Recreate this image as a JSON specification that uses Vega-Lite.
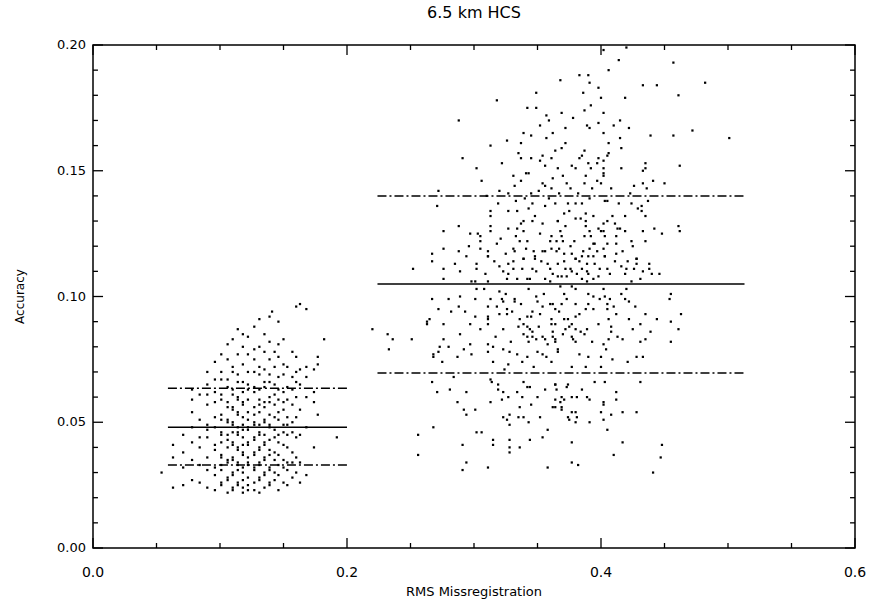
{
"$schema":"https://vega.github.io/schema/vega-lite/v6.json",
"autosize":"none","width":762,"height":503,
"padding":{"left":93,"top":45,"right":39,"bottom":58},
"background":"white",
"title":{"text":"6.5 km HCS","font":"DejaVu Sans","fontSize":16,"fontWeight":"normal","color":"black","offset":18},
"config":{"view":{"stroke":"black","strokeWidth":1.5},"text":{"font":"DejaVu Sans","color":"black"}},
"datasets":{
"xt":[{"v":0,"k":"major"},{"v":0.05,"k":"minor"},{"v":0.1,"k":"minor"},{"v":0.15,"k":"minor"},{"v":0.2,"k":"major"},{"v":0.25,"k":"minor"},{"v":0.3,"k":"minor"},{"v":0.35,"k":"minor"},{"v":0.4,"k":"major"},{"v":0.45,"k":"minor"},{"v":0.5,"k":"minor"},{"v":0.55,"k":"minor"},{"v":0.6,"k":"major"}],
"yt":[{"v":0,"k":"major"},{"v":0.01,"k":"minor"},{"v":0.02,"k":"minor"},{"v":0.03,"k":"minor"},{"v":0.04,"k":"minor"},{"v":0.05,"k":"major"},{"v":0.06,"k":"minor"},{"v":0.07,"k":"minor"},{"v":0.08,"k":"minor"},{"v":0.09,"k":"minor"},{"v":0.1,"k":"major"},{"v":0.11,"k":"minor"},{"v":0.12,"k":"minor"},{"v":0.13,"k":"minor"},{"v":0.14,"k":"minor"},{"v":0.15,"k":"major"},{"v":0.16,"k":"minor"},{"v":0.17,"k":"minor"},{"v":0.18,"k":"minor"},{"v":0.19,"k":"minor"},{"v":0.2,"k":"major"}],
"titles":[{"t":"RMS Missregistration","ax":"x","v":0.3},{"t":"Accuracy","ax":"y","v":0.1}],
"lines":[
{"x1":0.059,"x2":0.2,"y":0.048,"kind":"mean"},
{"x1":0.059,"x2":0.2,"y":0.0635,"kind":"sigma"},
{"x1":0.059,"x2":0.2,"y":0.033,"kind":"sigma"},
{"x1":0.224,"x2":0.513,"y":0.105,"kind":"mean"},
{"x1":0.224,"x2":0.513,"y":0.140,"kind":"sigma"},
{"x1":0.224,"x2":0.513,"y":0.0696,"kind":"sigma"}],
"pts":[
{"x":0.054,"y":0.030},
{"x":0.063,"y":0.024},{"x":0.063,"y":0.036},{"x":0.063,"y":0.041},
{"x":0.071,"y":0.025},{"x":0.071,"y":0.032},{"x":0.071,"y":0.038},{"x":0.071,"y":0.045},
{"x":0.078,"y":0.027},{"x":0.078,"y":0.035},{"x":0.078,"y":0.042},{"x":0.078,"y":0.048},{"x":0.078,"y":0.054},{"x":0.078,"y":0.059},{"x":0.078,"y":0.063},
{"x":0.084,"y":0.026},{"x":0.084,"y":0.033},{"x":0.084,"y":0.040},{"x":0.084,"y":0.044},{"x":0.084,"y":0.051},{"x":0.084,"y":0.061},
{"x":0.090,"y":0.024},{"x":0.090,"y":0.031},{"x":0.090,"y":0.036},{"x":0.090,"y":0.044},{"x":0.090,"y":0.047},{"x":0.090,"y":0.049},{"x":0.090,"y":0.057},{"x":0.090,"y":0.061},{"x":0.090,"y":0.065},{"x":0.090,"y":0.070},
{"x":0.096,"y":0.023},{"x":0.096,"y":0.029},{"x":0.096,"y":0.032},{"x":0.096,"y":0.039},{"x":0.096,"y":0.041},{"x":0.096,"y":0.048},{"x":0.096,"y":0.052},{"x":0.096,"y":0.058},{"x":0.096,"y":0.062},{"x":0.096,"y":0.067},{"x":0.096,"y":0.074},
{"x":0.101,"y":0.025},{"x":0.101,"y":0.026},{"x":0.101,"y":0.031},{"x":0.101,"y":0.033},{"x":0.101,"y":0.036},{"x":0.101,"y":0.037},{"x":0.101,"y":0.042},{"x":0.101,"y":0.045},{"x":0.101,"y":0.046},{"x":0.101,"y":0.051},{"x":0.101,"y":0.053},{"x":0.101,"y":0.059},{"x":0.101,"y":0.061},{"x":0.101,"y":0.067},{"x":0.101,"y":0.070},{"x":0.101,"y":0.077},
{"x":0.106,"y":0.022},{"x":0.106,"y":0.027},{"x":0.106,"y":0.028},{"x":0.106,"y":0.034},{"x":0.106,"y":0.035},{"x":0.106,"y":0.040},{"x":0.106,"y":0.043},{"x":0.106,"y":0.045},{"x":0.106,"y":0.050},{"x":0.106,"y":0.051},{"x":0.106,"y":0.056},{"x":0.106,"y":0.058},{"x":0.106,"y":0.064},{"x":0.106,"y":0.067},{"x":0.106,"y":0.075},{"x":0.106,"y":0.081},
{"x":0.110,"y":0.023},{"x":0.110,"y":0.024},{"x":0.110,"y":0.029},{"x":0.110,"y":0.030},{"x":0.110,"y":0.035},{"x":0.110,"y":0.036},{"x":0.110,"y":0.041},{"x":0.110,"y":0.042},{"x":0.110,"y":0.046},{"x":0.110,"y":0.049},{"x":0.110,"y":0.050},{"x":0.110,"y":0.055},{"x":0.110,"y":0.056},{"x":0.110,"y":0.061},{"x":0.110,"y":0.063},{"x":0.110,"y":0.070},{"x":0.110,"y":0.072},{"x":0.110,"y":0.083},
{"x":0.114,"y":0.025},{"x":0.114,"y":0.026},{"x":0.114,"y":0.031},{"x":0.114,"y":0.033},{"x":0.114,"y":0.034},{"x":0.114,"y":0.039},{"x":0.114,"y":0.040},{"x":0.114,"y":0.045},{"x":0.114,"y":0.046},{"x":0.114,"y":0.048},{"x":0.114,"y":0.053},{"x":0.114,"y":0.054},{"x":0.114,"y":0.059},{"x":0.114,"y":0.060},{"x":0.114,"y":0.066},{"x":0.114,"y":0.069},{"x":0.114,"y":0.077},{"x":0.114,"y":0.087},
{"x":0.118,"y":0.022},{"x":0.118,"y":0.024},{"x":0.118,"y":0.027},{"x":0.118,"y":0.030},{"x":0.118,"y":0.032},{"x":0.118,"y":0.037},{"x":0.118,"y":0.038},{"x":0.118,"y":0.041},{"x":0.118,"y":0.044},{"x":0.118,"y":0.047},{"x":0.118,"y":0.049},{"x":0.118,"y":0.052},{"x":0.118,"y":0.057},{"x":0.118,"y":0.058},{"x":0.118,"y":0.062},{"x":0.118,"y":0.066},{"x":0.118,"y":0.073},{"x":0.118,"y":0.080},{"x":0.118,"y":0.085},
{"x":0.122,"y":0.023},{"x":0.122,"y":0.025},{"x":0.122,"y":0.028},{"x":0.122,"y":0.033},{"x":0.122,"y":0.034},{"x":0.122,"y":0.036},{"x":0.122,"y":0.041},{"x":0.122,"y":0.042},{"x":0.122,"y":0.047},{"x":0.122,"y":0.048},{"x":0.122,"y":0.051},{"x":0.122,"y":0.054},{"x":0.122,"y":0.059},{"x":0.122,"y":0.063},{"x":0.122,"y":0.065},{"x":0.122,"y":0.070},{"x":0.122,"y":0.077},{"x":0.122,"y":0.084},
{"x":0.127,"y":0.023},{"x":0.127,"y":0.026},{"x":0.127,"y":0.031},{"x":0.127,"y":0.032},{"x":0.127,"y":0.037},{"x":0.127,"y":0.038},{"x":0.127,"y":0.043},{"x":0.127,"y":0.044},{"x":0.127,"y":0.049},{"x":0.127,"y":0.050},{"x":0.127,"y":0.053},{"x":0.127,"y":0.056},{"x":0.127,"y":0.062},{"x":0.127,"y":0.064},{"x":0.127,"y":0.070},{"x":0.127,"y":0.075},{"x":0.127,"y":0.079},{"x":0.127,"y":0.088},
{"x":0.131,"y":0.022},{"x":0.131,"y":0.027},{"x":0.131,"y":0.028},{"x":0.131,"y":0.033},{"x":0.131,"y":0.034},{"x":0.131,"y":0.039},{"x":0.131,"y":0.040},{"x":0.131,"y":0.045},{"x":0.131,"y":0.046},{"x":0.131,"y":0.049},{"x":0.131,"y":0.054},{"x":0.131,"y":0.057},{"x":0.131,"y":0.059},{"x":0.131,"y":0.063},{"x":0.131,"y":0.069},{"x":0.131,"y":0.072},{"x":0.131,"y":0.080},{"x":0.131,"y":0.091},
{"x":0.135,"y":0.024},{"x":0.135,"y":0.029},{"x":0.135,"y":0.030},{"x":0.135,"y":0.035},{"x":0.135,"y":0.036},{"x":0.135,"y":0.041},{"x":0.135,"y":0.042},{"x":0.135,"y":0.045},{"x":0.135,"y":0.050},{"x":0.135,"y":0.051},{"x":0.135,"y":0.056},{"x":0.135,"y":0.058},{"x":0.135,"y":0.064},{"x":0.135,"y":0.066},{"x":0.135,"y":0.071},{"x":0.135,"y":0.078},{"x":0.135,"y":0.085},
{"x":0.139,"y":0.025},{"x":0.139,"y":0.026},{"x":0.139,"y":0.031},{"x":0.139,"y":0.032},{"x":0.139,"y":0.037},{"x":0.139,"y":0.039},{"x":0.139,"y":0.043},{"x":0.139,"y":0.048},{"x":0.139,"y":0.049},{"x":0.139,"y":0.053},{"x":0.139,"y":0.058},{"x":0.139,"y":0.060},{"x":0.139,"y":0.066},{"x":0.139,"y":0.069},{"x":0.139,"y":0.075},{"x":0.139,"y":0.082},{"x":0.139,"y":0.092},{"x":0.141,"y":0.094},
{"x":0.143,"y":0.027},{"x":0.143,"y":0.030},{"x":0.143,"y":0.035},{"x":0.143,"y":0.038},{"x":0.143,"y":0.044},{"x":0.143,"y":0.047},{"x":0.143,"y":0.052},{"x":0.143,"y":0.057},{"x":0.143,"y":0.061},{"x":0.143,"y":0.065},{"x":0.143,"y":0.072},{"x":0.143,"y":0.078},
{"x":0.146,"y":0.023},{"x":0.146,"y":0.029},{"x":0.146,"y":0.033},{"x":0.146,"y":0.037},{"x":0.146,"y":0.042},{"x":0.146,"y":0.045},{"x":0.146,"y":0.051},{"x":0.146,"y":0.054},{"x":0.146,"y":0.059},{"x":0.146,"y":0.063},{"x":0.146,"y":0.068},{"x":0.146,"y":0.076},{"x":0.146,"y":0.081},{"x":0.146,"y":0.090},
{"x":0.150,"y":0.026},{"x":0.150,"y":0.032},{"x":0.150,"y":0.035},{"x":0.150,"y":0.041},{"x":0.150,"y":0.046},{"x":0.150,"y":0.049},{"x":0.150,"y":0.055},{"x":0.150,"y":0.058},{"x":0.150,"y":0.062},{"x":0.150,"y":0.069},{"x":0.150,"y":0.073},{"x":0.150,"y":0.083},
{"x":0.153,"y":0.025},{"x":0.153,"y":0.031},{"x":0.153,"y":0.034},{"x":0.153,"y":0.040},{"x":0.153,"y":0.045},{"x":0.153,"y":0.049},{"x":0.153,"y":0.052},{"x":0.153,"y":0.059},{"x":0.153,"y":0.064},{"x":0.153,"y":0.072},
{"x":0.157,"y":0.028},{"x":0.157,"y":0.034},{"x":0.157,"y":0.038},{"x":0.157,"y":0.046},{"x":0.157,"y":0.050},{"x":0.157,"y":0.057},{"x":0.157,"y":0.063},{"x":0.157,"y":0.068},{"x":0.157,"y":0.078},
{"x":0.160,"y":0.030},{"x":0.160,"y":0.036},{"x":0.160,"y":0.044},{"x":0.160,"y":0.052},{"x":0.160,"y":0.060},{"x":0.160,"y":0.066},{"x":0.160,"y":0.070},{"x":0.160,"y":0.076},{"x":0.160,"y":0.096},
{"x":0.163,"y":0.026},{"x":0.163,"y":0.034},{"x":0.163,"y":0.045},{"x":0.163,"y":0.055},{"x":0.163,"y":0.065},{"x":0.163,"y":0.071},{"x":0.163,"y":0.097},
{"x":0.168,"y":0.029},{"x":0.168,"y":0.048},{"x":0.168,"y":0.060},{"x":0.168,"y":0.068},{"x":0.168,"y":0.072},{"x":0.168,"y":0.095},
{"x":0.174,"y":0.040},{"x":0.174,"y":0.058},{"x":0.174,"y":0.062},{"x":0.174,"y":0.071},
{"x":0.177,"y":0.053},{"x":0.177,"y":0.073},{"x":0.177,"y":0.076},
{"x":0.182,"y":0.083},{"x":0.192,"y":0.044},
{"x":0.288,"y":0.170},{"x":0.318,"y":0.178},{"x":0.349,"y":0.181},{"x":0.342,"y":0.175},{"x":0.349,"y":0.175},{"x":0.357,"y":0.172},{"x":0.359,"y":0.170},{"x":0.362,"y":0.165},{"x":0.357,"y":0.163},{"x":0.339,"y":0.165},{"x":0.345,"y":0.164},{"x":0.313,"y":0.160},{"x":0.337,"y":0.161},{"x":0.335,"y":0.157},{"x":0.291,"y":0.155},{"x":0.337,"y":0.155},{"x":0.345,"y":0.155},{"x":0.354,"y":0.156},{"x":0.352,"y":0.154},{"x":0.361,"y":0.155},{"x":0.302,"y":0.151},{"x":0.322,"y":0.153},{"x":0.356,"y":0.152},{"x":0.341,"y":0.149},{"x":0.331,"y":0.148},{"x":0.337,"y":0.146},{"x":0.306,"y":0.146},{"x":0.332,"y":0.144},{"x":0.354,"y":0.145},{"x":0.356,"y":0.144},{"x":0.362,"y":0.147},{"x":0.361,"y":0.143},{"x":0.272,"y":0.142},{"x":0.320,"y":0.142},{"x":0.310,"y":0.140},{"x":0.345,"y":0.141},{"x":0.340,"y":0.139},{"x":0.346,"y":0.137},{"x":0.356,"y":0.136},{"x":0.271,"y":0.136},{"x":0.319,"y":0.137},{"x":0.313,"y":0.134},{"x":0.327,"y":0.134},{"x":0.334,"y":0.134},{"x":0.343,"y":0.135},{"x":0.348,"y":0.132},{"x":0.346,"y":0.130},{"x":0.337,"y":0.129},{"x":0.339,"y":0.130},{"x":0.354,"y":0.129},{"x":0.366,"y":0.130},{"x":0.313,"y":0.132},{"x":0.313,"y":0.128},{"x":0.313,"y":0.126},{"x":0.276,"y":0.126},{"x":0.288,"y":0.128},{"x":0.327,"y":0.127},{"x":0.334,"y":0.127},{"x":0.339,"y":0.126},{"x":0.297,"y":0.125},{"x":0.303,"y":0.125},{"x":0.305,"y":0.124},{"x":0.305,"y":0.122},{"x":0.321,"y":0.123},{"x":0.336,"y":0.122},{"x":0.342,"y":0.122},{"x":0.360,"y":0.122},{"x":0.361,"y":0.124},{"x":0.288,"y":0.118},{"x":0.276,"y":0.119},{"x":0.267,"y":0.117},{"x":0.305,"y":0.119},{"x":0.311,"y":0.118},{"x":0.311,"y":0.116},{"x":0.331,"y":0.119},{"x":0.332,"y":0.118},{"x":0.347,"y":0.118},{"x":0.354,"y":0.118},{"x":0.361,"y":0.119},{"x":0.339,"y":0.115},{"x":0.348,"y":0.115},
{"x":0.402,"y":0.198},{"x":0.420,"y":0.199},{"x":0.414,"y":0.194},{"x":0.457,"y":0.193},{"x":0.406,"y":0.190},{"x":0.368,"y":0.186},{"x":0.383,"y":0.188},{"x":0.390,"y":0.188},{"x":0.391,"y":0.185},{"x":0.398,"y":0.183},{"x":0.433,"y":0.184},{"x":0.444,"y":0.184},{"x":0.482,"y":0.185},{"x":0.461,"y":0.180},{"x":0.400,"y":0.179},{"x":0.419,"y":0.179},{"x":0.369,"y":0.173},{"x":0.387,"y":0.174},{"x":0.402,"y":0.173},{"x":0.398,"y":0.169},{"x":0.415,"y":0.170},{"x":0.372,"y":0.167},{"x":0.389,"y":0.168},{"x":0.391,"y":0.167},{"x":0.402,"y":0.165},{"x":0.410,"y":0.168},{"x":0.422,"y":0.167},{"x":0.415,"y":0.163},{"x":0.439,"y":0.164},{"x":0.457,"y":0.164},{"x":0.472,"y":0.166},{"x":0.501,"y":0.163},{"x":0.406,"y":0.161},{"x":0.416,"y":0.159},{"x":0.369,"y":0.159},{"x":0.364,"y":0.158},{"x":0.387,"y":0.158},{"x":0.385,"y":0.156},{"x":0.406,"y":0.157},{"x":0.405,"y":0.156},{"x":0.398,"y":0.155},{"x":0.402,"y":0.154},{"x":0.390,"y":0.153},{"x":0.397,"y":0.153},{"x":0.377,"y":0.152},{"x":0.380,"y":0.151},{"x":0.392,"y":0.151},{"x":0.402,"y":0.151},{"x":0.416,"y":0.151},{"x":0.435,"y":0.153},{"x":0.435,"y":0.151},{"x":0.433,"y":0.150},{"x":0.462,"y":0.152},{"x":0.402,"y":0.149},{"x":0.402,"y":0.148},{"x":0.370,"y":0.148},{"x":0.388,"y":0.148},{"x":0.441,"y":0.146},{"x":0.387,"y":0.145},{"x":0.400,"y":0.145},{"x":0.433,"y":0.145},{"x":0.450,"y":0.145},{"x":0.436,"y":0.143},{"x":0.376,"y":0.143},{"x":0.393,"y":0.143},{"x":0.403,"y":0.138},{"x":0.405,"y":0.138},{"x":0.423,"y":0.141},{"x":0.364,"y":0.137},{"x":0.374,"y":0.137},{"x":0.380,"y":0.137},{"x":0.385,"y":0.137},{"x":0.437,"y":0.138},{"x":0.424,"y":0.137},{"x":0.429,"y":0.135},{"x":0.432,"y":0.136},{"x":0.432,"y":0.134},{"x":0.435,"y":0.132},{"x":0.371,"y":0.133},{"x":0.375,"y":0.134},{"x":0.388,"y":0.133},{"x":0.394,"y":0.132},{"x":0.409,"y":0.132},{"x":0.419,"y":0.132},{"x":0.380,"y":0.131},{"x":0.366,"y":0.130},{"x":0.405,"y":0.130},{"x":0.402,"y":0.129},{"x":0.388,"y":0.130},{"x":0.388,"y":0.128},{"x":0.415,"y":0.127},{"x":0.413,"y":0.127},{"x":0.419,"y":0.126},{"x":0.398,"y":0.127},{"x":0.402,"y":0.126},{"x":0.400,"y":0.126},{"x":0.433,"y":0.126},{"x":0.442,"y":0.127},{"x":0.448,"y":0.125},{"x":0.461,"y":0.128},{"x":0.462,"y":0.126},{"x":0.368,"y":0.126},{"x":0.391,"y":0.126},{"x":0.387,"y":0.124},{"x":0.403,"y":0.124},{"x":0.412,"y":0.124},{"x":0.369,"y":0.124},{"x":0.370,"y":0.122},{"x":0.365,"y":0.122},{"x":0.376,"y":0.120},{"x":0.394,"y":0.121},{"x":0.395,"y":0.121},{"x":0.412,"y":0.121},{"x":0.424,"y":0.122},{"x":0.425,"y":0.120},{"x":0.435,"y":0.122},{"x":0.391,"y":0.119},{"x":0.402,"y":0.119},{"x":0.365,"y":0.118},{"x":0.371,"y":0.117},{"x":0.377,"y":0.117},{"x":0.385,"y":0.116},{"x":0.390,"y":0.116},{"x":0.403,"y":0.116},{"x":0.412,"y":0.117},{"x":0.428,"y":0.115},{"x":0.380,"y":0.115},
{"x":0.267,"y":0.114},{"x":0.252,"y":0.111},{"x":0.276,"y":0.111},{"x":0.294,"y":0.116},{"x":0.311,"y":0.116},{"x":0.289,"y":0.110},{"x":0.302,"y":0.111},{"x":0.276,"y":0.107},{"x":0.298,"y":0.106},{"x":0.301,"y":0.106},{"x":0.311,"y":0.106},{"x":0.320,"y":0.112},{"x":0.323,"y":0.110},{"x":0.327,"y":0.109},{"x":0.327,"y":0.113},{"x":0.331,"y":0.114},{"x":0.331,"y":0.111},{"x":0.326,"y":0.107},{"x":0.334,"y":0.107},{"x":0.338,"y":0.111},{"x":0.339,"y":0.115},{"x":0.346,"y":0.111},{"x":0.349,"y":0.110},{"x":0.342,"y":0.107},{"x":0.344,"y":0.107},{"x":0.353,"y":0.114},{"x":0.360,"y":0.111},{"x":0.362,"y":0.109},{"x":0.356,"y":0.107},{"x":0.360,"y":0.106},{"x":0.348,"y":0.116},
{"x":0.267,"y":0.099},{"x":0.280,"y":0.099},{"x":0.289,"y":0.100},{"x":0.301,"y":0.099},{"x":0.313,"y":0.099},{"x":0.302,"y":0.103},{"x":0.308,"y":0.103},{"x":0.320,"y":0.102},{"x":0.322,"y":0.099},{"x":0.323,"y":0.098},{"x":0.332,"y":0.099},{"x":0.332,"y":0.098},{"x":0.272,"y":0.095},{"x":0.288,"y":0.096},{"x":0.311,"y":0.096},{"x":0.326,"y":0.095},{"x":0.349,"y":0.100},{"x":0.350,"y":0.098},{"x":0.354,"y":0.096},{"x":0.360,"y":0.097},{"x":0.362,"y":0.097},{"x":0.364,"y":0.095},{"x":0.346,"y":0.094},{"x":0.352,"y":0.093},{"x":0.293,"y":0.094},{"x":0.301,"y":0.092},{"x":0.311,"y":0.092},{"x":0.311,"y":0.091},{"x":0.320,"y":0.093},{"x":0.326,"y":0.093},{"x":0.330,"y":0.094},{"x":0.336,"y":0.091},{"x":0.342,"y":0.092},{"x":0.345,"y":0.092},{"x":0.361,"y":0.091},{"x":0.265,"y":0.091},{"x":0.263,"y":0.090},{"x":0.263,"y":0.089},{"x":0.276,"y":0.089},{"x":0.297,"y":0.089},{"x":0.311,"y":0.089},{"x":0.323,"y":0.087},{"x":0.339,"y":0.089},{"x":0.342,"y":0.088},{"x":0.344,"y":0.087},{"x":0.346,"y":0.086},{"x":0.220,"y":0.087},{"x":0.232,"y":0.085},{"x":0.236,"y":0.083},{"x":0.251,"y":0.083},{"x":0.233,"y":0.079},{"x":0.276,"y":0.083},{"x":0.289,"y":0.085},{"x":0.273,"y":0.080},{"x":0.272,"y":0.078},{"x":0.280,"y":0.080},{"x":0.297,"y":0.081},{"x":0.292,"y":0.079},{"x":0.311,"y":0.081},{"x":0.315,"y":0.080},{"x":0.311,"y":0.078},{"x":0.323,"y":0.079},{"x":0.328,"y":0.078},{"x":0.334,"y":0.077},{"x":0.342,"y":0.076},{"x":0.339,"y":0.085},{"x":0.342,"y":0.084},{"x":0.343,"y":0.082},{"x":0.346,"y":0.084},{"x":0.349,"y":0.083},{"x":0.354,"y":0.084},{"x":0.356,"y":0.083},{"x":0.362,"y":0.084},{"x":0.362,"y":0.086},{"x":0.361,"y":0.089},{"x":0.350,"y":0.078},{"x":0.354,"y":0.077},{"x":0.357,"y":0.076},{"x":0.361,"y":0.074},{"x":0.268,"y":0.077},{"x":0.268,"y":0.076},{"x":0.275,"y":0.074},{"x":0.287,"y":0.076},{"x":0.315,"y":0.074},{"x":0.327,"y":0.073},{"x":0.338,"y":0.074},
{"x":0.284,"y":0.068},{"x":0.313,"y":0.067},{"x":0.314,"y":0.066},{"x":0.339,"y":0.066},{"x":0.342,"y":0.064},{"x":0.344,"y":0.064},{"x":0.319,"y":0.065},{"x":0.319,"y":0.063},{"x":0.323,"y":0.062},{"x":0.334,"y":0.062},{"x":0.338,"y":0.060},{"x":0.327,"y":0.060},{"x":0.350,"y":0.060},{"x":0.364,"y":0.065},{"x":0.364,"y":0.059},{"x":0.362,"y":0.056},{"x":0.267,"y":0.066},{"x":0.271,"y":0.062},{"x":0.281,"y":0.063},{"x":0.294,"y":0.062},{"x":0.322,"y":0.059},{"x":0.287,"y":0.058},{"x":0.292,"y":0.055},{"x":0.294,"y":0.053},{"x":0.301,"y":0.055},{"x":0.323,"y":0.052},{"x":0.326,"y":0.051},{"x":0.328,"y":0.053},{"x":0.335,"y":0.052},{"x":0.339,"y":0.052},{"x":0.343,"y":0.050},{"x":0.328,"y":0.049},{"x":0.268,"y":0.048},{"x":0.302,"y":0.046},{"x":0.306,"y":0.046},{"x":0.256,"y":0.045},{"x":0.315,"y":0.043},{"x":0.315,"y":0.041},{"x":0.328,"y":0.043},{"x":0.336,"y":0.040},{"x":0.328,"y":0.040},{"x":0.328,"y":0.038},{"x":0.344,"y":0.043},{"x":0.354,"y":0.044},{"x":0.358,"y":0.047},{"x":0.291,"y":0.041},{"x":0.256,"y":0.037},{"x":0.294,"y":0.034},{"x":0.291,"y":0.031},{"x":0.311,"y":0.032},{"x":0.358,"y":0.032},
{"x":0.366,"y":0.113},{"x":0.371,"y":0.114},{"x":0.380,"y":0.115},{"x":0.383,"y":0.114},{"x":0.389,"y":0.113},{"x":0.394,"y":0.116},{"x":0.403,"y":0.116},{"x":0.376,"y":0.111},{"x":0.377,"y":0.110},{"x":0.385,"y":0.111},{"x":0.389,"y":0.110},{"x":0.390,"y":0.109},{"x":0.395,"y":0.113},{"x":0.399,"y":0.111},{"x":0.405,"y":0.111},{"x":0.366,"y":0.108},{"x":0.369,"y":0.108},{"x":0.373,"y":0.108},{"x":0.381,"y":0.109},{"x":0.385,"y":0.107},{"x":0.389,"y":0.106},{"x":0.394,"y":0.107},{"x":0.407,"y":0.109},{"x":0.416,"y":0.112},{"x":0.420,"y":0.111},{"x":0.421,"y":0.114},{"x":0.428,"y":0.115},{"x":0.428,"y":0.113},{"x":0.419,"y":0.109},{"x":0.424,"y":0.106},{"x":0.431,"y":0.107},{"x":0.433,"y":0.110},{"x":0.438,"y":0.113},{"x":0.438,"y":0.111},{"x":0.440,"y":0.109},{"x":0.446,"y":0.109},{"x":0.368,"y":0.104},{"x":0.377,"y":0.104},
{"x":0.371,"y":0.101},{"x":0.380,"y":0.103},{"x":0.390,"y":0.101},{"x":0.394,"y":0.100},{"x":0.403,"y":0.100},{"x":0.402,"y":0.103},{"x":0.399,"y":0.099},{"x":0.407,"y":0.099},{"x":0.420,"y":0.103},{"x":0.419,"y":0.099},{"x":0.422,"y":0.098},{"x":0.455,"y":0.101},{"x":0.454,"y":0.099},{"x":0.369,"y":0.097},{"x":0.380,"y":0.097},{"x":0.390,"y":0.097},{"x":0.405,"y":0.097},{"x":0.410,"y":0.096},{"x":0.388,"y":0.095},{"x":0.405,"y":0.095},{"x":0.435,"y":0.093},{"x":0.463,"y":0.093},{"x":0.380,"y":0.092},{"x":0.371,"y":0.091},{"x":0.374,"y":0.091},{"x":0.406,"y":0.091},{"x":0.422,"y":0.091},{"x":0.444,"y":0.091},{"x":0.455,"y":0.090},{"x":0.431,"y":0.089},{"x":0.377,"y":0.089},{"x":0.375,"y":0.088},{"x":0.380,"y":0.087},{"x":0.384,"y":0.086},{"x":0.389,"y":0.087},{"x":0.408,"y":0.088},{"x":0.408,"y":0.086},{"x":0.387,"y":0.085},{"x":0.439,"y":0.086},{"x":0.461,"y":0.087},{"x":0.364,"y":0.089},{"x":0.364,"y":0.083},{"x":0.364,"y":0.082},{"x":0.370,"y":0.085},{"x":0.377,"y":0.084},{"x":0.378,"y":0.083},{"x":0.406,"y":0.083},{"x":0.417,"y":0.083},{"x":0.431,"y":0.082},{"x":0.435,"y":0.083},{"x":0.455,"y":0.082},{"x":0.380,"y":0.082},{"x":0.402,"y":0.081},{"x":0.366,"y":0.079},{"x":0.366,"y":0.078},{"x":0.390,"y":0.076},{"x":0.400,"y":0.076},{"x":0.421,"y":0.074},{"x":0.428,"y":0.076},{"x":0.433,"y":0.076},{"x":0.377,"y":0.072},{"x":0.388,"y":0.072},{"x":0.400,"y":0.072},
{"x":0.364,"y":0.065},{"x":0.365,"y":0.063},{"x":0.373,"y":0.064},{"x":0.374,"y":0.065},{"x":0.403,"y":0.066},{"x":0.431,"y":0.066},{"x":0.369,"y":0.060},{"x":0.371,"y":0.059},{"x":0.368,"y":0.058},{"x":0.377,"y":0.060},{"x":0.381,"y":0.060},{"x":0.389,"y":0.060},{"x":0.391,"y":0.059},{"x":0.402,"y":0.058},{"x":0.402,"y":0.057},{"x":0.412,"y":0.062},{"x":0.412,"y":0.059},{"x":0.364,"y":0.056},{"x":0.369,"y":0.056},{"x":0.369,"y":0.055},{"x":0.377,"y":0.054},{"x":0.380,"y":0.054},{"x":0.400,"y":0.054},{"x":0.408,"y":0.053},{"x":0.417,"y":0.054},{"x":0.428,"y":0.054},{"x":0.374,"y":0.052},{"x":0.375,"y":0.051},{"x":0.381,"y":0.052},{"x":0.402,"y":0.051},{"x":0.380,"y":0.050},{"x":0.391,"y":0.050},{"x":0.405,"y":0.047},{"x":0.377,"y":0.042},{"x":0.417,"y":0.042},{"x":0.448,"y":0.041},{"x":0.410,"y":0.037},{"x":0.447,"y":0.036},{"x":0.377,"y":0.034},{"x":0.382,"y":0.033},{"x":0.441,"y":0.030},
{"x":0.318,"y":0.121},{"x":0.325,"y":0.117},{"x":0.333,"y":0.124},{"x":0.341,"y":0.119},{"x":0.352,"y":0.125},{"x":0.358,"y":0.113},{"x":0.367,"y":0.119},{"x":0.372,"y":0.128},{"x":0.379,"y":0.122},{"x":0.384,"y":0.131},{"x":0.392,"y":0.124},{"x":0.397,"y":0.118},{"x":0.405,"y":0.121},{"x":0.411,"y":0.129},{"x":0.417,"y":0.118},{"x":0.327,"y":0.141},{"x":0.333,"y":0.138},{"x":0.351,"y":0.142},{"x":0.359,"y":0.139},{"x":0.367,"y":0.141},{"x":0.373,"y":0.145},{"x":0.382,"y":0.141},{"x":0.391,"y":0.139},{"x":0.397,"y":0.146},{"x":0.408,"y":0.143},{"x":0.414,"y":0.137},{"x":0.426,"y":0.144},{"x":0.318,"y":0.096},{"x":0.325,"y":0.101},{"x":0.337,"y":0.097},{"x":0.343,"y":0.103},{"x":0.355,"y":0.101},{"x":0.367,"y":0.094},{"x":0.373,"y":0.099},{"x":0.383,"y":0.093},{"x":0.394,"y":0.095},{"x":0.398,"y":0.089},{"x":0.412,"y":0.093},{"x":0.416,"y":0.101},{"x":0.427,"y":0.096},{"x":0.305,"y":0.087},{"x":0.317,"y":0.084},{"x":0.329,"y":0.082},{"x":0.335,"y":0.088},{"x":0.351,"y":0.088},{"x":0.358,"y":0.081},{"x":0.372,"y":0.087},{"x":0.393,"y":0.082},{"x":0.404,"y":0.079},{"x":0.413,"y":0.084},{"x":0.425,"y":0.087},{"x":0.302,"y":0.113},{"x":0.309,"y":0.109},{"x":0.316,"y":0.114},{"x":0.356,"y":0.118},{"x":0.372,"y":0.111},{"x":0.386,"y":0.118},{"x":0.398,"y":0.108},{"x":0.411,"y":0.114},{"x":0.426,"y":0.111},{"x":0.296,"y":0.120},{"x":0.285,"y":0.113},{"x":0.282,"y":0.094},{"x":0.298,"y":0.077},{"x":0.324,"y":0.071},{"x":0.347,"y":0.072},{"x":0.383,"y":0.077},{"x":0.409,"y":0.075},{"x":0.343,"y":0.149},{"x":0.366,"y":0.151},{"x":0.383,"y":0.155},{"x":0.326,"y":0.162},{"x":0.372,"y":0.161},{"x":0.378,"y":0.171},{"x":0.352,"y":0.168},{"x":0.386,"y":0.181},{"x":0.392,"y":0.176},{"x":0.345,"y":0.057},{"x":0.356,"y":0.063},{"x":0.385,"y":0.063},{"x":0.395,"y":0.066},{"x":0.352,"y":0.052},{"x":0.336,"y":0.056},{"x":0.313,"y":0.058}
]},
"layer":[
{"data":{"name":"pts"},"mark":{"type":"square","size":5,"color":"black","opacity":1},
 "encoding":{
  "x":{"field":"x","type":"quantitative","scale":{"domain":[0,0.6],"nice":false,"zero":false},"axis":null},
  "y":{"field":"y","type":"quantitative","scale":{"domain":[0,0.2],"nice":false,"zero":false},"axis":null}}},
{"data":{"name":"lines"},"mark":{"type":"rule","color":"black","strokeWidth":1.5},
 "encoding":{
  "x":{"field":"x1","type":"quantitative","axis":null},
  "x2":{"field":"x2"},
  "y":{"field":"y","type":"quantitative","axis":null},
  "strokeDash":{"field":"kind","type":"nominal","scale":{"domain":["mean","sigma"],"range":[[1,0],[9,3,2,3]]},"legend":null}}},
{"data":{"name":"xt"},"transform":[{"filter":"datum.k == 'major'"}],"mark":{"type":"text","fontSize":14,"baseline":"top","align":"center","yOffset":18},
 "encoding":{"x":{"field":"v","type":"quantitative","axis":null},"y":{"datum":0,"type":"quantitative","axis":null},"text":{"field":"v","type":"quantitative","format":".1f"}}},
{"data":{"name":"yt"},"transform":[{"filter":"datum.k == 'major'"}],"mark":{"type":"text","fontSize":13,"baseline":"middle","align":"right","xOffset":-7},
 "encoding":{"y":{"field":"v","type":"quantitative","axis":null},"x":{"datum":0,"type":"quantitative","axis":null},"text":{"field":"v","type":"quantitative","format":".2f"}}},
{"data":{"name":"titles"},"transform":[{"filter":"datum.ax == 'x'"}],"mark":{"type":"text","fontSize":13,"baseline":"top","align":"center","yOffset":38},
 "encoding":{"x":{"field":"v","type":"quantitative","axis":null},"y":{"datum":0,"type":"quantitative","axis":null},"text":{"field":"t"}}},
{"data":{"name":"titles"},"transform":[{"filter":"datum.ax == 'y'"}],"mark":{"type":"text","fontSize":12,"baseline":"middle","align":"center","angle":270,"xOffset":-73},
 "encoding":{"y":{"field":"v","type":"quantitative","axis":null},"x":{"datum":0,"type":"quantitative","axis":null},"text":{"field":"t"}}},
{"data":{"name":"xt"},"transform":[{"filter":"datum.k == 'major'"}],"mark":{"type":"rule","color":"black","strokeWidth":1.3},
 "encoding":{"x":{"field":"v","type":"quantitative","axis":null},"y":{"datum":0,"type":"quantitative","axis":null},"y2":{"datum":0.004}}},
{"data":{"name":"xt"},"transform":[{"filter":"datum.k == 'minor'"}],"mark":{"type":"rule","color":"black","strokeWidth":1.3},
 "encoding":{"x":{"field":"v","type":"quantitative","axis":null},"y":{"datum":0,"type":"quantitative","axis":null},"y2":{"datum":0.002}}},
{"data":{"name":"xt"},"transform":[{"filter":"datum.k == 'major'"}],"mark":{"type":"rule","color":"black","strokeWidth":1.3},
 "encoding":{"x":{"field":"v","type":"quantitative","axis":null},"y":{"datum":0.2,"type":"quantitative","axis":null},"y2":{"datum":0.196}}},
{"data":{"name":"xt"},"transform":[{"filter":"datum.k == 'minor'"}],"mark":{"type":"rule","color":"black","strokeWidth":1.3},
 "encoding":{"x":{"field":"v","type":"quantitative","axis":null},"y":{"datum":0.2,"type":"quantitative","axis":null},"y2":{"datum":0.198}}},
{"data":{"name":"yt"},"transform":[{"filter":"datum.k == 'major'"}],"mark":{"type":"rule","color":"black","strokeWidth":1.3},
 "encoding":{"y":{"field":"v","type":"quantitative","axis":null},"x":{"datum":0,"type":"quantitative","axis":null},"x2":{"datum":0.0079}}},
{"data":{"name":"yt"},"transform":[{"filter":"datum.k == 'minor'"}],"mark":{"type":"rule","color":"black","strokeWidth":1.3},
 "encoding":{"y":{"field":"v","type":"quantitative","axis":null},"x":{"datum":0,"type":"quantitative","axis":null},"x2":{"datum":0.0039}}},
{"data":{"name":"yt"},"transform":[{"filter":"datum.k == 'major'"}],"mark":{"type":"rule","color":"black","strokeWidth":1.3},
 "encoding":{"y":{"field":"v","type":"quantitative","axis":null},"x":{"datum":0.6,"type":"quantitative","axis":null},"x2":{"datum":0.5921}}},
{"data":{"name":"yt"},"transform":[{"filter":"datum.k == 'minor'"}],"mark":{"type":"rule","color":"black","strokeWidth":1.3},
 "encoding":{"y":{"field":"v","type":"quantitative","axis":null},"x":{"datum":0.6,"type":"quantitative","axis":null},"x2":{"datum":0.5961}}}
]
}
